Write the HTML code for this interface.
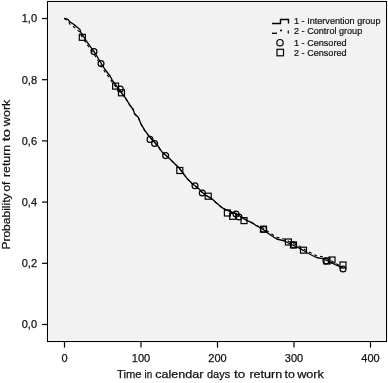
<!DOCTYPE html>
<html><head><meta charset="utf-8"><style>
html,body{margin:0;padding:0;background:#fff;}
body{width:388px;height:383px;overflow:hidden;}
svg{display:block;will-change:transform;}
.t{font-family:"Liberation Sans",sans-serif;font-size:11px;fill:#111;stroke:#111;stroke-width:0.25px;}
.lg{font-family:"Liberation Sans",sans-serif;font-size:9.1px;fill:#111;stroke:#111;stroke-width:0.2px;}
.ax{font-family:"Liberation Sans",sans-serif;font-size:11.4px;fill:#111;stroke:#111;stroke-width:0.25px;}
</style></head><body>
<svg width="388" height="383" viewBox="0 0 388 383">
<rect x="49" y="3" width="336" height="337" fill="#f2f2f2"/>
<rect x="48.5" y="2.5" width="337" height="338" fill="none" stroke="#fff" stroke-width="1"/>
<rect x="47.5" y="1.5" width="339" height="340" fill="none" stroke="#000" stroke-width="1.1"/>
<line x1="42" y1="18.5" x2="47" y2="18.5" stroke="#000" stroke-width="1.2"/>
<text x="37" y="22.3" text-anchor="end" class="t">1,0</text>
<line x1="42" y1="79.7" x2="47" y2="79.7" stroke="#000" stroke-width="1.2"/>
<text x="37" y="83.5" text-anchor="end" class="t">0,8</text>
<line x1="42" y1="140.9" x2="47" y2="140.9" stroke="#000" stroke-width="1.2"/>
<text x="37" y="144.7" text-anchor="end" class="t">0,6</text>
<line x1="42" y1="202.1" x2="47" y2="202.1" stroke="#000" stroke-width="1.2"/>
<text x="37" y="205.9" text-anchor="end" class="t">0,4</text>
<line x1="42" y1="263.3" x2="47" y2="263.3" stroke="#000" stroke-width="1.2"/>
<text x="37" y="267.1" text-anchor="end" class="t">0,2</text>
<line x1="42" y1="324.5" x2="47" y2="324.5" stroke="#000" stroke-width="1.2"/>
<text x="37" y="328.3" text-anchor="end" class="t">0,0</text>
<line x1="64.5" y1="342" x2="64.5" y2="347.6" stroke="#000" stroke-width="1.2"/>
<text x="64.5" y="362" text-anchor="middle" class="t">0</text>
<line x1="141.0" y1="342" x2="141.0" y2="347.6" stroke="#000" stroke-width="1.2"/>
<text x="141.0" y="362" text-anchor="middle" class="t">100</text>
<line x1="217.5" y1="342" x2="217.5" y2="347.6" stroke="#000" stroke-width="1.2"/>
<text x="217.5" y="362" text-anchor="middle" class="t">200</text>
<line x1="294.0" y1="342" x2="294.0" y2="347.6" stroke="#000" stroke-width="1.2"/>
<text x="294.0" y="362" text-anchor="middle" class="t">300</text>
<line x1="370.5" y1="342" x2="370.5" y2="347.6" stroke="#000" stroke-width="1.2"/>
<text x="370.5" y="362" text-anchor="middle" class="t">400</text>
<polyline points="64.3,18.5 67.8,19.4 70.2,22.2 74.1,24.5 77.2,27.3 80.0,29.6 80.8,32.4 86.0,40.4 90.7,47.2 95.0,53.0 101.0,63.0 105.0,69.5 110.4,76.5 112.5,80.7 118.0,88.0 121.0,92.0 123.6,95.6 125.9,98.7 129.8,105.0 133.2,109.5 134.5,113.6 138.4,117.5 139.6,120.6 140.8,123.5 144.6,130.2 150.4,137.8 157.8,145.7 162.0,152.0 169.2,158.2 174.5,163.4 179.7,168.6 183.0,173.0 187.0,178.3 192.0,183.5 198.0,188.0 204.0,194.0 211.5,198.6 216.6,203.0 222.8,208.2 228.5,210.8 235.5,213.4 242.5,217.8 247.8,220.8 252.0,222.6 256.0,225.5 260.5,227.8 263.5,229.8 268.0,233.3 272.0,236.0 276.6,239.0 285.0,241.0 290.0,244.0 299.0,247.9 303.3,250.5 306.7,252.5 312.4,255.5 316.5,257.5 322.2,258.6 328.0,261.0 334.8,264.5 340.0,266.7 343.0,267.5" fill="none" stroke="#000" stroke-width="1.35" stroke-linejoin="round"/>
<polyline points="64.3,18.5 67.8,20.5 70.2,24.7 74.1,27.0 77.2,29.8 80.0,32.1 80.8,34.9 86.0,42.9 90.7,49.7 95.0,55.5 101.0,65.5 105.0,72.0 110.4,79.0 112.5,83.1 118.0,89.3 121.0,92.8 123.6,95.9 125.9,99.0 129.8,105.3 133.2,109.8 134.5,113.9 138.4,117.8 139.6,120.9 140.8,123.8 144.6,130.5 150.4,138.1 157.8,146.0 162.0,152.3 169.2,158.5 174.5,163.7 179.7,168.9 183.0,173.3 187.0,178.6 192.0,183.8 198.0,188.3 204.0,194.3 211.5,198.9 216.6,203.3 222.8,208.5 228.5,211.1 235.5,213.7 242.5,218.1 247.8,221.1 252.0,222.9 256.0,225.3 260.5,226.8 263.5,228.3 268.0,231.5 272.0,234.2 276.6,237.2 285.0,239.2 290.0,242.2 299.0,246.1 303.3,248.7 306.7,250.7 312.4,253.7 316.5,255.7 322.2,256.8 328.0,259.2 334.8,262.7 340.0,265.9 343.0,267.5" fill="none" stroke="#000" stroke-width="1.1" stroke-dasharray="3 3"/>
<rect x="79.3" y="34.3" width="6" height="6" fill="none" stroke="#000" stroke-width="1.2"/>
<rect x="112.6" y="83.1" width="6" height="6" fill="none" stroke="#000" stroke-width="1.2"/>
<rect x="118.5" y="89.8" width="6" height="6" fill="none" stroke="#000" stroke-width="1.2"/>
<rect x="176.8" y="167.5" width="6" height="6" fill="none" stroke="#000" stroke-width="1.2"/>
<rect x="205.2" y="193.2" width="6" height="6" fill="none" stroke="#000" stroke-width="1.2"/>
<rect x="224.4" y="210.0" width="6" height="6" fill="none" stroke="#000" stroke-width="1.2"/>
<rect x="229.7" y="213.3" width="6" height="6" fill="none" stroke="#000" stroke-width="1.2"/>
<rect x="241.0" y="217.6" width="6" height="6" fill="none" stroke="#000" stroke-width="1.2"/>
<rect x="260.5" y="226.2" width="6" height="6" fill="none" stroke="#000" stroke-width="1.2"/>
<rect x="285.4" y="239.0" width="6" height="6" fill="none" stroke="#000" stroke-width="1.2"/>
<rect x="290.5" y="242.0" width="6" height="6" fill="none" stroke="#000" stroke-width="1.2"/>
<rect x="300.5" y="247.2" width="6" height="6" fill="none" stroke="#000" stroke-width="1.2"/>
<rect x="324.0" y="258.0" width="6" height="6" fill="none" stroke="#000" stroke-width="1.2"/>
<rect x="329.0" y="257.0" width="6" height="6" fill="none" stroke="#000" stroke-width="1.2"/>
<rect x="340.0" y="262.0" width="6" height="6" fill="none" stroke="#000" stroke-width="1.2"/>
<circle cx="94.0" cy="51.6" r="2.95" fill="none" stroke="#000" stroke-width="1.2"/>
<circle cx="101.0" cy="63.5" r="2.95" fill="none" stroke="#000" stroke-width="1.2"/>
<circle cx="120.3" cy="89.0" r="2.95" fill="none" stroke="#000" stroke-width="1.2"/>
<circle cx="150.0" cy="139.4" r="2.95" fill="none" stroke="#000" stroke-width="1.2"/>
<circle cx="154.6" cy="143.5" r="2.95" fill="none" stroke="#000" stroke-width="1.2"/>
<circle cx="165.6" cy="155.6" r="2.95" fill="none" stroke="#000" stroke-width="1.2"/>
<circle cx="195.0" cy="185.8" r="2.95" fill="none" stroke="#000" stroke-width="1.2"/>
<circle cx="202.3" cy="193.0" r="2.95" fill="none" stroke="#000" stroke-width="1.2"/>
<circle cx="236.0" cy="214.0" r="2.95" fill="none" stroke="#000" stroke-width="1.2"/>
<circle cx="239.0" cy="217.0" r="2.95" fill="none" stroke="#000" stroke-width="1.2"/>
<circle cx="263.5" cy="229.2" r="2.95" fill="none" stroke="#000" stroke-width="1.2"/>
<circle cx="293.5" cy="245.0" r="2.95" fill="none" stroke="#000" stroke-width="1.2"/>
<circle cx="326.0" cy="261.0" r="2.95" fill="none" stroke="#000" stroke-width="1.2"/>
<circle cx="343.0" cy="269.0" r="2.95" fill="none" stroke="#000" stroke-width="1.2"/>
<polyline points="272,23.5 280.5,23.5 280.5,19.5 288.5,19.5 288.5,23.5" fill="none" stroke="#000" stroke-width="1.4"/>
<line x1="272" y1="33.3" x2="277" y2="33.3" stroke="#000" stroke-width="1.4"/>
<line x1="280" y1="30.5" x2="282" y2="30.5" stroke="#000" stroke-width="1.6"/>
<line x1="288.3" y1="30.5" x2="288.3" y2="33.5" stroke="#000" stroke-width="1.2"/>
<circle cx="280" cy="42.7" r="3.2" fill="none" stroke="#000" stroke-width="1.2"/>
<rect x="277" y="49.3" width="6.5" height="6.5" fill="none" stroke="#000" stroke-width="1.2"/>
<text x="294" y="23.6" class="lg">1 - Intervention group</text>
<text x="294" y="33.7" class="lg">2 - Control group</text>
<text x="294" y="46.3" class="lg">1 - Censored</text>
<text x="294" y="55.9" class="lg">2 - Censored</text>
<text x="117.0" y="378.3" class="ax" textLength="24.5" lengthAdjust="spacingAndGlyphs">Time</text>
<text x="144.6" y="378.3" class="ax" textLength="7.7" lengthAdjust="spacingAndGlyphs">in</text>
<text x="155.2" y="378.3" class="ax" textLength="48.3" lengthAdjust="spacingAndGlyphs">calendar</text>
<text x="207.0" y="378.3" class="ax" textLength="23.1" lengthAdjust="spacingAndGlyphs">days</text>
<text x="234.1" y="378.3" class="ax" textLength="11.3" lengthAdjust="spacingAndGlyphs">to</text>
<text x="249.4" y="378.3" class="ax" textLength="32.9" lengthAdjust="spacingAndGlyphs">return</text>
<text x="284.6" y="378.3" class="ax" textLength="10.4" lengthAdjust="spacingAndGlyphs">to</text>
<text x="297.2" y="378.3" class="ax" textLength="26.7" lengthAdjust="spacingAndGlyphs">work</text>
<text transform="translate(10.2,249.6) rotate(-90)" x="0" y="0" class="ax" textLength="56.1" lengthAdjust="spacingAndGlyphs">Probability</text>
<text transform="translate(10.2,191.6) rotate(-90)" x="0" y="0" class="ax" textLength="9.9" lengthAdjust="spacingAndGlyphs">of</text>
<text transform="translate(10.2,177.0) rotate(-90)" x="0" y="0" class="ax" textLength="32.1" lengthAdjust="spacingAndGlyphs">return</text>
<text transform="translate(10.2,141.2) rotate(-90)" x="0" y="0" class="ax" textLength="12.2" lengthAdjust="spacingAndGlyphs">to</text>
<text transform="translate(10.2,126.2) rotate(-90)" x="0" y="0" class="ax" textLength="26.6" lengthAdjust="spacingAndGlyphs">work</text>
</svg>
</body></html>
